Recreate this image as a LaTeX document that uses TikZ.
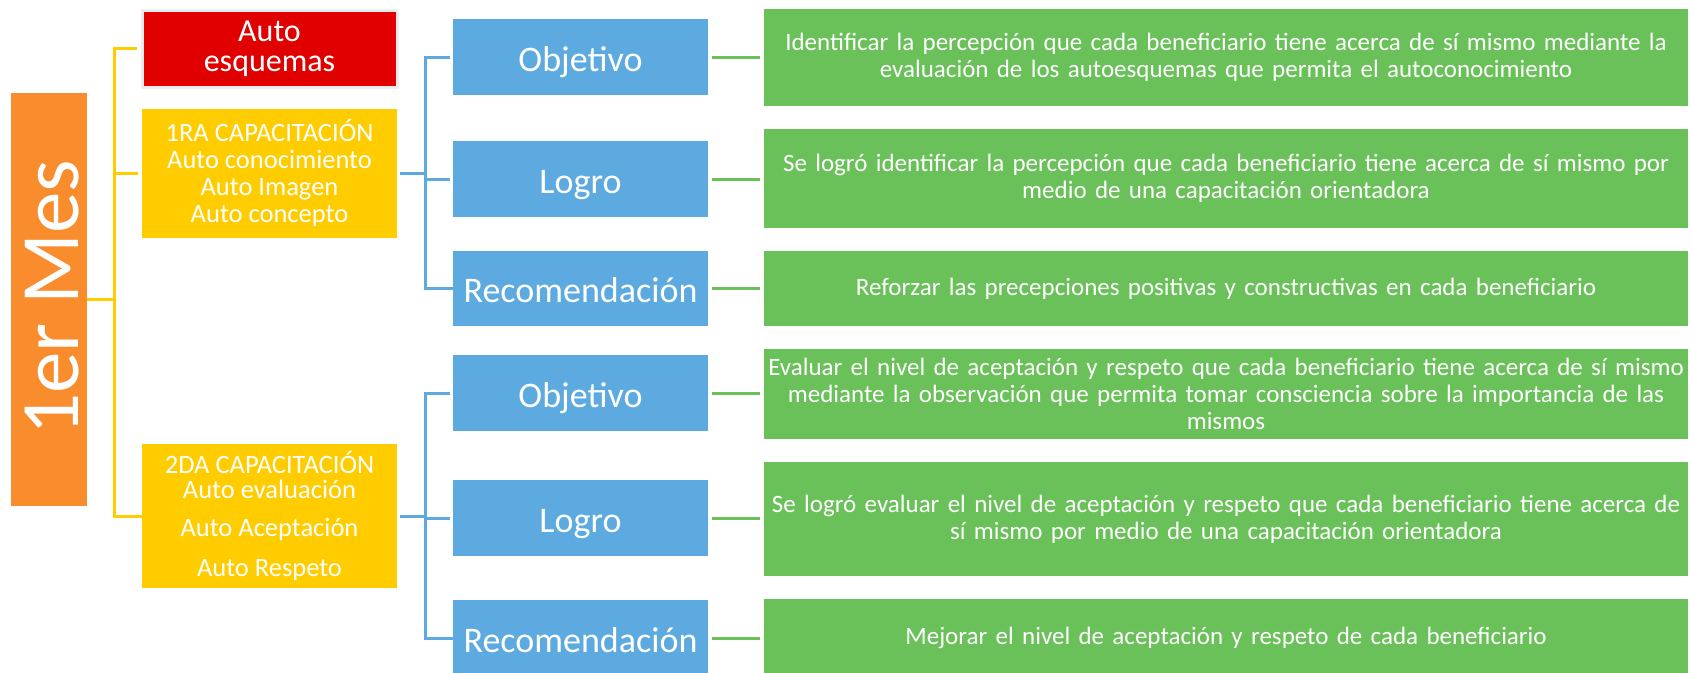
\documentclass[tikz,border=0pt]{standalone}
\usepackage{fontspec}
\setmainfont{Carlito}
\definecolor{cOrange}{HTML}{F98C2C}
\definecolor{cRed}{HTML}{E00000}
\definecolor{cYellow}{HTML}{FFCC00}
\definecolor{cBlue}{HTML}{5DAAE0}
\definecolor{cGreen}{HTML}{6AC15A}
\definecolor{cEdge}{HTML}{EDEDED}
\tikzset{
  box/.style={rectangle, inner sep=0pt, text=white, align=center},
  level1/.style={box, minimum width=255pt},
  bluebox/.style={box, fill=cBlue, minimum width=255pt, minimum height=76pt, text height=28pt, text depth=0pt, font=\fontsize{36}{40}\selectfont},
  greenbox/.style={box, fill=cGreen, minimum width=924pt, text width=916pt, font=\fontsize{25}{27}\selectfont},
  yline/.style={draw=cYellow, line width=3pt},
  bline/.style={draw=cBlue, line width=3pt},
  gline/.style={draw=cGreen, line width=3pt},
  gap/.style={shorten <=3.5pt, shorten >=3.5pt}
}
\begin{document}
\begin{tikzpicture}[x=1pt,y=-1pt]
\useasboundingbox (0,0) rectangle (1692,672);
\fill[white] (0,0) rectangle (1692,672);

% orange month box
\node[box, fill=cOrange, minimum width=76pt, minimum height=413pt] (mes) at (49,299.5) {};
\node[rotate=90, anchor=base, text=white, inner sep=0pt, font=\fontsize{83}{83}\selectfont] (mestext) at (78,298) {1er Mes};

% level 1 boxes
\node[level1, fill=cRed, minimum height=77pt, draw=cEdge, line width=3pt, font=\fontsize{32}{30}\selectfont] (auto) at (269.5,48.5) {Auto\\esquemas};
\node[level1, fill=cYellow, minimum height=129pt, font=\fontsize{26.5}{27}\selectfont] (cap1) at (269.5,173.5) {1RA CAPACITACIÓN\\Auto conocimiento\\Auto Imagen\\Auto concepto};
\node[level1, fill=cYellow, minimum height=144pt, font=\fontsize{26.5}{25}\selectfont] (cap2) at (269.5,516) {2DA CAPACITACIÓN\\Auto evaluación\\[13pt]Auto Aceptación\\[15pt]Auto Respeto};

% blue boxes
\node[bluebox] (obj1) at (580.5,57) {Objetivo};
\node[bluebox] (log1) at (580.5,179) {Logro};
\node[bluebox, minimum height=75pt] (rec1) at (580.5,288.5) {Recomendación};
\node[bluebox] (obj2) at (580.5,393) {Objetivo};
\node[bluebox] (log2) at (580.5,518) {Logro};
\node[bluebox] (rec2) at (580.5,638) {Recomendación};

% green boxes
\node[greenbox, minimum height=97pt] (g1) at (1226,57.5) {Identificar la percepción que cada beneficiario tiene acerca de sí mismo mediante la\\evaluación de los autoesquemas que permita el autoconocimiento};
\node[greenbox, minimum height=99pt] (g2) at (1226,178.5) {Se logró identificar la percepción que cada beneficiario tiene acerca de sí mismo por\\medio de una capacitación orientadora};
\node[greenbox, minimum height=75pt] (g3) at (1226,288.5) {Reforzar las precepciones positivas y constructivas en cada beneficiario};
\node[greenbox, minimum height=90pt] (g4) at (1226,394) {Evaluar el nivel de aceptación y respeto que cada beneficiario tiene acerca de sí mismo\\mediante la observación que permita tomar consciencia sobre la importancia de las\\mismos};
\node[greenbox, minimum height=114pt] (g5) at (1226,519) {Se logró evaluar el nivel de aceptación y respeto que cada beneficiario tiene acerca de\\sí mismo por medio de una capacitación orientadora};
\node[greenbox, minimum height=77pt] (g6) at (1226,637.5) {Mejorar el nivel de aceptación y respeto de cada beneficiario};

% trunk coordinates
\coordinate (yt) at (114,0);
\coordinate (bt) at (425,0);

% yellow connectors
\draw[yline] (mes.east) -- (mes.east -| yt);
\draw[yline, shorten <=3.5pt] (auto.west) -- (auto.west -| yt) |- (cap2.west);
\draw[yline, shorten <=3.5pt] (cap1.west) -- (cap1.west -| yt);

% blue connectors
\draw[bline, shorten <=3pt] (cap1.east) -- (cap1.east -| bt);
\draw[bline, shorten <=3pt] (obj1.west) -- (obj1.west -| bt) |- (rec1.west);
\draw[bline, shorten <=3pt] (log1.west) -- (log1.west -| bt);
\draw[bline, shorten <=3pt] (cap2.east) -- (cap2.east -| bt);
\draw[bline, shorten <=3pt] (obj2.west) -- (obj2.west -| bt) |- (rec2.west);
\draw[bline, shorten <=3pt] (log2.west) -- (log2.west -| bt);

% green connectors
\draw[gline, gap] (obj1.east) -- (obj1.east -| g1.west);
\draw[gline, gap] (log1.east) -- (log1.east -| g2.west);
\draw[gline, gap] (rec1.east) -- (rec1.east -| g3.west);
\draw[gline, gap] (obj2.east) -- (obj2.east -| g4.west);
\draw[gline, gap] (log2.east) -- (log2.east -| g5.west);
\draw[gline, gap] (rec2.east) -- (rec2.east -| g6.west);
\end{tikzpicture}
\end{document}
